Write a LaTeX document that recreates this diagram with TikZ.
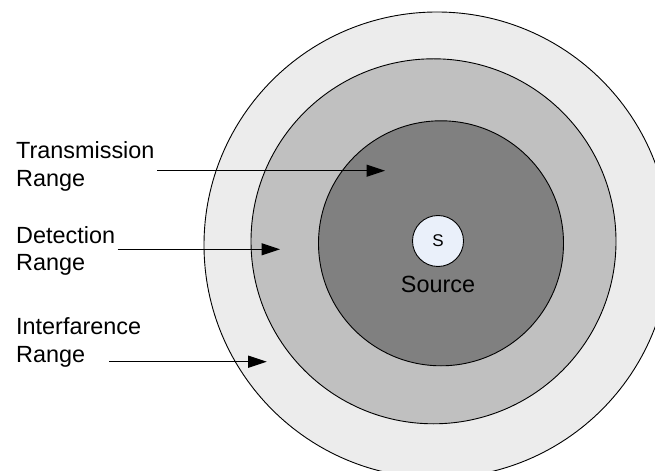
\documentclass[tikz,border=0pt]{standalone}
\usepackage{fontspec}
\setmainfont{Liberation Sans}
\usetikzlibrary{arrows.meta}
\definecolor{ringout}{HTML}{ECECEC}
\definecolor{ringmid}{HTML}{C0C0C0}
\definecolor{ringin}{HTML}{808080}
\definecolor{srcfill}{HTML}{EAF0FA}
\tikzset{
  ring/.style={draw=black, line width=0.9bp},
  lbl/.style={font=\fontsize{23.4bp}{27.7bp}\selectfont, align=left, anchor=base west, inner sep=0pt},
  pointer/.style={draw=black, line width=1.1bp, -{Triangle[length=18.5bp, width=12bp]}}
}
\begin{document}
\begin{tikzpicture}[x=1bp, y=-1bp]
  \useasboundingbox (0,0) rectangle (655,471);
  \begin{scope}
    \clip (0,0) rectangle (655,471);
    % nested ranges, largest first
    \filldraw[ring, fill=ringout] (437,245) circle[radius=233];
    \filldraw[ring, fill=ringmid] (433.5,241.3) circle[radius=182.5];
    \filldraw[ring, fill=ringin] (441,243.3) circle[radius=122.5];
  \end{scope}
  % source node
  \node[circle, draw=black, line width=0.9bp, fill=srcfill, minimum size=51bp, inner sep=0pt,
        font=\fontsize{17bp}{18bp}\selectfont] (src) at (438,241) {S};
  \node[font=\fontsize{23.4bp}{27bp}\selectfont, anchor=base, inner sep=0pt] (srclbl) at (438,293) {Source};
  % labels (anchored at the baseline of their second line)
  \node[lbl] (tx) at (16,186.7) {Transmission\\Range};
  \node[lbl] (det) at (16,271) {Detection\\Range};
  \node[lbl] (intf) at (16,362) {Interfarence\\Range};
  % pointer ends
  \coordinate (txs) at (157,170.7);
  \coordinate (txe) at (385,170.7);
  \coordinate (dets) at (117.7,249.3);
  \coordinate (dete) at (280,249.3);
  \coordinate (intfs) at (109,361.7);
  \coordinate (intfe) at (266.7,361.7);
  \draw[pointer] (txs) -- (txe);
  \draw[pointer] (dets) -- (dete);
  \draw[pointer] (intfs) -- (intfe);
\end{tikzpicture}
\end{document}
